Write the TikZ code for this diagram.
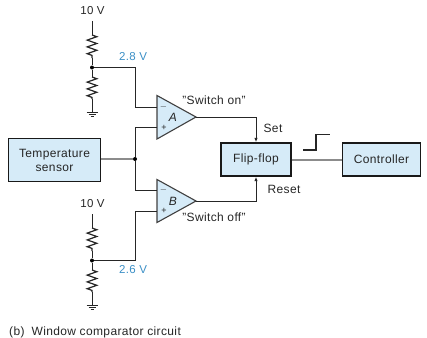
\documentclass[tikz,border=0pt]{standalone}
\usepackage{fontspec}
\setmainfont[LetterSpace=3]{Liberation Sans}
\usetikzlibrary{arrows.meta}
\usetikzlibrary{decorations.pathmorphing}
\definecolor{boxblue}{HTML}{D6EBF8}
\definecolor{voltblue}{HTML}{3B8FC6}
\begin{document}
\begin{tikzpicture}[x=1pt,y=-1pt]

\tikzstyle{every node}=[font=\fontsize{12}{14}\selectfont, text=black!85, inner sep=0pt]
\tikzstyle{wire}=[line width=1pt, black!85]
\tikzstyle{greywire}=[line width=2pt, black!45]
\tikzstyle{resistor}=[line width=1.2pt, black!85, decorate, decoration={zigzag, segment length=6.8pt, amplitude=4.8pt}]
\tikzstyle{block}=[draw=black!90, line width=1.4pt, fill=boxblue, align=center]
\tikzstyle{opamp}=[draw=black!75, line width=1.1pt, fill=boxblue]
\tikzstyle{dot}=[circle, fill=black, minimum size=4pt]
\tikzstyle{volt}=[text=voltblue, font=\fontsize{11.5}{14}\selectfont]

\useasboundingbox (0,0) rectangle (427,337);

% blocks
\node[block, minimum width=92pt, minimum height=43pt] (sensor) at (54.5,160) {Temperature\\sensor};
\node[block, minimum width=70pt, minimum height=33pt] (flipflop) at (256,159.5) {Flip-flop};
\node[block, minimum width=78pt, minimum height=33pt] (controller) at (381.5,159.5) {Controller};

% comparators
\foreach \n/\t/\u/\b/\m/\p in {A/95.5/117/139/107.5/127.5, B/179.5/201/222.5/190.5/211} {
	\coordinate (top\n) at (157,\t);
	\coordinate (tip\n) at (196,\u);
	\coordinate (bot\n) at (157,\b);
	\coordinate (minus\n) at (157,\m);
	\coordinate (plus\n) at (157,\p);
	\draw[opamp] (top\n) -- (tip\n) -- (bot\n) -- cycle;
	\node (name\n) at (173,\u) {\textit{\n}};
	\node (minuslabel\n) at (163.5,\m) {\small$-$};
	\node (pluslabel\n) at (164,\p) {\small +};
}

% voltage dividers
\foreach \n/\d in {a/0, b/193} {
	\node[font=\fontsize{11.5}{14}\selectfont] (supply\n) at (92.5,11+\d) {10 V};
	\coordinate (top\n) at (92,21+\d);
	\coordinate (ra\n) at (92,35+\d);
	\coordinate (rb\n) at (92,58+\d);
	\node[dot] (mid\n) at (92,67.5+\d) {};
	\coordinate (rc\n) at (92,77+\d);
	\coordinate (rd\n) at (92,99+\d);
	\coordinate (gnd\n) at (92,112+\d);
	\draw[wire] (top\n) -- (ra\n);
	\draw[resistor] (ra\n) -- (rb\n);
	\draw[wire] (rb\n) -- (mid\n) -- (rc\n);
	\draw[resistor] (rc\n) -- (rd\n);
	\draw[wire] (rd\n) -- (gnd\n);
	\draw[wire] ([xshift=-5.5pt]gnd\n) -- ([xshift=5.5pt]gnd\n);
	\draw[wire] ([xshift=-3.5pt,yshift=-2.4pt]gnd\n) -- ([xshift=3.5pt,yshift=-2.4pt]gnd\n);
	\draw[wire] ([xshift=-1.5pt,yshift=-4.8pt]gnd\n) -- ([xshift=1.5pt,yshift=-4.8pt]gnd\n);
}
\node[volt] (lowvolt) at (133,57) {2.8 V};
\node[volt] (highvolt) at (133,270) {2.6 V};

% inputs
\node[dot] (split) at (135,159) {};
\draw[greywire] (sensor.east |- split) -- (split);
\draw[wire] (mida) -| (135,107.5) -- (minusA);
\draw[wire] (plusA) -- (135,127.5) -- (split) -- (135,190.5) -- (minusB);
\draw[wire] (midb) -| (135,211) -- (plusB);

% outputs
\draw[wire, -{Latex[length=4.5pt,width=3.5pt]}] (tipA) -| (flipflop.north);
\draw[wire, -{Latex[length=4.5pt,width=3.5pt]}] (tipB) -| (flipflop.south);
\draw[greywire] (flipflop) -- (controller);
\node (seton) at (214,100.5) {"Switch on"};
\node (setoff) at (214,217) {"Switch off"};
\node (setlabel) at (273,128) {Set};
\node (resetlabel) at (284,189) {Reset};

% step
\coordinate (stepa) at (303,150);
\coordinate (stepb) at (316,150);
\coordinate (stepc) at (316,134.5);
\coordinate (stepd) at (330,134.5);
\draw[line width=1.3pt, black!85] (stepa) -- (stepb) -- (stepc) -- (stepd);

\node[anchor=west] (caption) at (9,332) {(b)\hspace{7pt}Window comparator circuit};
\end{tikzpicture}
\end{document}
